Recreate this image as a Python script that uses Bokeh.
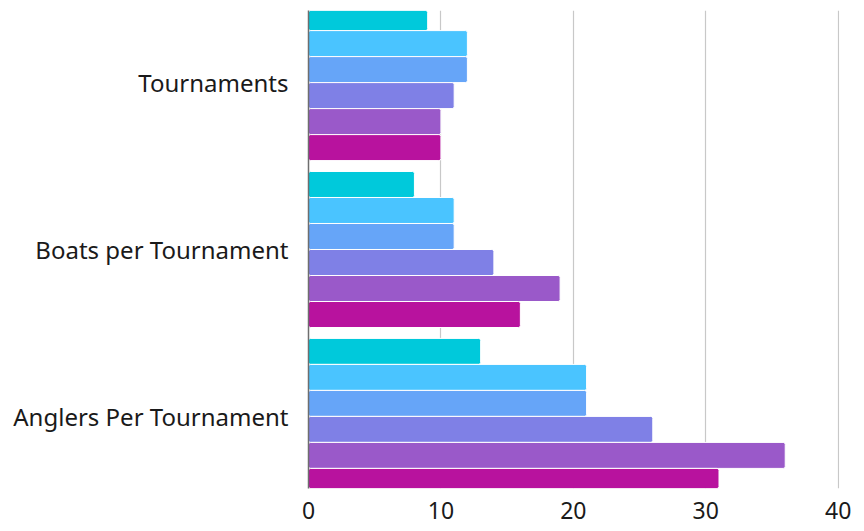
from bokeh.plotting import figure
from bokeh.models import ColumnDataSource, FactorRange, Range1d, FixedTicker
from bokeh.transform import dodge
from bokeh.embed import file_html
from bokeh.resources import INLINE

categories = ["Tournaments", "Boats per Tournament", "Anglers Per Tournament"]
series_names = ["Series 1", "Series 2", "Series 3", "Series 4", "Series 5", "Series 6"]
series_1 = [9, 8, 13]
series_2 = [12, 11, 21]
series_3 = [12, 11, 21]
series_4 = [11, 14, 26]
series_5 = [10, 19, 36]
series_6 = [10, 16, 31]
x_ticks = [0, 10, 20, 30, 40]
colors = ["#00C9DB", "#4AC4FF", "#66A5F8", "#7F80E6", "#9A59C9", "#B8129E"]

values = [series_1, series_2, series_3, series_4, series_5, series_6]
data = {"cat": categories}
for name, vals in zip(series_names, values):
    data[name] = vals
source = ColumnDataSource(data)

y_range = FactorRange(*categories[::-1], range_padding=-0.068, range_padding_units="absolute")

p = figure(y_range=y_range, x_range=Range1d(0, 40.1),
           frame_width=531, frame_height=478,
           min_border_left=308, min_border_top=10, min_border_right=17, min_border_bottom=38,
           output_backend="svg", toolbar_location=None)

h = 0.1558
for i, (name, col) in enumerate(zip(series_names, colors)):
    p.hbar(y=dodge("cat", (2.5 - i) * h, range=p.y_range), right=name, left=0,
           height=h, source=source, fill_color=col, line_color="white", line_width=1,
           border_radius=2)

p.xaxis.ticker = FixedTicker(ticks=x_ticks)
p.xaxis.axis_line_color = None
p.xaxis.major_tick_line_color = None
p.xaxis.minor_tick_line_color = None
p.xaxis.major_label_text_font = "Noto Sans"
p.xaxis.major_label_text_font_size = "23px"
p.xaxis.major_label_text_color = "#1a1a1a"
p.xaxis.major_label_standoff = 7

p.yaxis.axis_line_color = "#6e6e6e"
p.yaxis.axis_line_width = 1.5
p.yaxis.major_tick_line_color = None
p.yaxis.minor_tick_line_color = None
p.yaxis.major_label_text_font = "Noto Sans"
p.yaxis.major_label_text_font_size = "24px"
p.yaxis.major_label_text_color = "#1a1a1a"
p.yaxis.major_label_standoff = 14

p.ygrid.grid_line_color = None
p.xgrid.grid_line_color = "#c8c8c8"
p.xgrid.grid_line_width = 1.2
p.outline_line_color = None
p.background_fill_color = "white"
p.border_fill_color = "white"

open("out.html", "w").write(file_html(p, INLINE))
